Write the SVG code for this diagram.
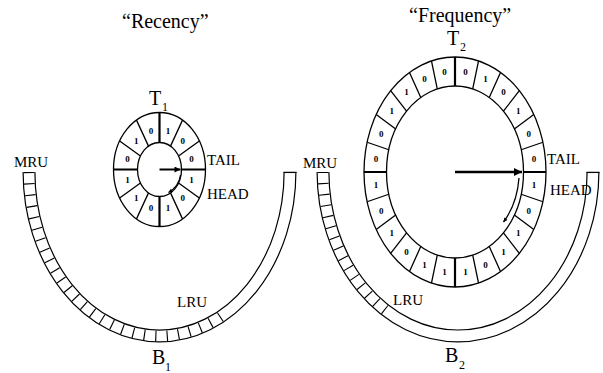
<svg xmlns="http://www.w3.org/2000/svg" width="603" height="373" viewBox="0 0 603 373">
  <style>
    .ln { stroke: #000; stroke-width: 1.3; fill: none; }
    .bold { stroke: #000; stroke-width: 2.2; fill: none; }
    .ptr { stroke: #000; fill: none; }
    .bit { font-family: "Liberation Serif", "Times New Roman", serif; font-weight: bold; font-size: 9px; text-anchor: middle; fill: #000; }
    .lbl { font-family: "Liberation Serif", "Times New Roman", serif; font-size: 15px; fill: #000; }
    .title { font-family: "Liberation Serif", "Times New Roman", serif; font-size: 20px; fill: #000; }
    .big { font-family: "Liberation Serif", "Times New Roman", serif; font-size: 20px; fill: #000; }
    .sub { font-family: "Liberation Serif", "Times New Roman", serif; font-size: 12px; fill: #000; }
    .band-edge { stroke: #000; stroke-width: 13; fill: none; }
    .band-fill { stroke: #fff; stroke-width: 10.6; fill: none; }
    .band-cells { stroke: #000; stroke-width: 10.6; fill: none; stroke-dasharray: 1 9; }
  </style>
  <defs>
    <marker id="head-lg" viewBox="0 0 10 10" refX="10" refY="5" markerWidth="11" markerHeight="8" markerUnits="userSpaceOnUse" orient="auto">
      <path d="M0 0 L10 5 L0 10 Z" fill="#000"/>
    </marker>
    <marker id="head-sm" viewBox="0 0 10 10" refX="10" refY="5" markerWidth="8" markerHeight="6" markerUnits="userSpaceOnUse" orient="auto">
      <path d="M0 0 L10 5 L0 10 Z" fill="#000"/>
    </marker>
    <marker id="head-xs" viewBox="0 0 10 10" refX="10" refY="5" markerWidth="7" markerHeight="4" markerUnits="userSpaceOnUse" orient="auto">
      <path d="M0 0 L10 5 L0 10 Z" fill="#000"/>
    </marker>
  </defs>

  <rect width="603" height="373" fill="#fff"/>

  <!-- column titles -->
  <text id="title-recency" class="title" x="122" y="28">“Recency”</text>
  <text id="title-frequency" class="title" x="409" y="22">“Frequency”</text>

  <!-- B1: ghost list of the recency side -->
  <g id="b1">
    <path class="band-edge" d="M29 172 A130.5 164 0 0 0 290 172"/>
    <path class="band-fill" d="M29 172 A130.5 164 0 0 0 290 172"/>
    <path class="band-cells" pathLength="261" d="M29 172 A130.5 164 0 0 0 220.8 316.8"/>
    <path class="ln" d="M283.5 172.4 H296.5"/>
    <text class="lbl" x="14" y="167">MRU</text>
    <text class="lbl" x="283" y="167" visibility="hidden">MRU</text>
    <text class="lbl" x="177" y="307">LRU</text>
    <text class="big" x="152" y="364">B</text>
    <text class="sub" x="165" y="371">1</text>
  </g>

  <!-- B2: ghost list of the frequency side -->
  <g id="b2">
    <path class="band-edge" d="M323 172 A135 164 0 0 0 593 172"/>
    <path class="band-fill" d="M323 172 A135 164 0 0 0 593 172"/>
    <path class="band-cells" pathLength="141" d="M323 172 A135 164 0 0 0 385.1 310"/>
    <path class="ln" d="M586.5 172.4 H599.5"/>
    <text class="lbl" x="303" y="168">MRU</text>
    <text class="lbl" x="393" y="305">LRU</text>
    <text class="big" x="445" y="362">B</text>
    <text class="sub" x="459" y="369">2</text>
  </g>

  <!-- T1: clock of 12 pages with reference bits -->
  <g id="t1">
    <ellipse class="ln" cx="159.5" cy="169.5" rx="46" ry="57" fill="#fff"/>
    <ellipse class="ln" cx="159.5" cy="169.5" rx="22" ry="27"/>
    <path class="bold" d="M181.5 169.5 H205.5 M137.5 169.5 H113.5 M159.5 142.5 V112.5 M159.5 196.5 V226.5"/>
    <path class="ln" d="M178.55 156 L199.34 141 M170.5 146.12 L182.5 120.14 M148.5 146.12 L136.5 120.14 M140.45 156 L119.66 141 M140.45 183 L119.66 198 M148.5 192.88 L136.5 218.86 M170.5 192.88 L182.5 218.86 M178.55 183 L199.34 198"/>
    <text class="bit" x="168" y="134">1</text>
    <text class="bit" x="182.8" y="144.2">0</text>
    <text class="bit" x="191.4" y="162.2">0</text>
    <text class="bit" x="191.4" y="182.9">1</text>
    <text class="bit" x="182.8" y="200.8">0</text>
    <text class="bit" x="168" y="211.1">1</text>
    <text class="bit" x="151" y="211.1">0</text>
    <text class="bit" x="136.2" y="200.8">1</text>
    <text class="bit" x="127.6" y="182.9">1</text>
    <text class="bit" x="127.6" y="162.2">0</text>
    <text class="bit" x="136.2" y="144.2">1</text>
    <text class="bit" x="151" y="134">0</text>
    <text class="big" x="149" y="105">T</text>
    <text class="sub" x="162" y="111">1</text>
    <text class="lbl" x="207" y="165">TAIL</text>
    <text class="lbl" x="207" y="199">HEAD</text>
  </g>

  <!-- T2: clock of 24 pages with reference bits -->
  <g id="t2">
    <ellipse class="ln" cx="455" cy="172" rx="91" ry="115" fill="#fff"/>
    <ellipse class="ln" cx="455" cy="172" rx="68.5" ry="86"/>
    <path class="bold" d="M523.5 172 H546 M386.5 172 H364 M455 86 V57 M455 258 V287"/>
    <path class="ln" d="M521.17 149.74 L542.9 142.24 M514.32 129 L533.81 114.5 M503.44 111.19 L519.35 90.68 M489.25 97.52 L500.5 72.41 M472.73 88.93 L478.55 60.92 M437.27 88.93 L431.45 60.92 M420.75 97.52 L409.5 72.41 M406.56 111.19 L390.65 90.68 M395.68 129 L376.19 114.5 M388.83 149.74 L367.1 142.24 M388.83 194.26 L367.1 201.76 M395.68 215 L376.19 229.5 M406.56 232.81 L390.65 253.32 M420.75 246.48 L409.5 271.59 M437.27 255.07 L431.45 283.08 M472.73 255.07 L478.55 283.08 M489.25 246.48 L500.5 271.59 M503.44 232.81 L519.35 253.32 M514.32 215 L533.81 229.5 M521.17 194.26 L542.9 201.76"/>
    <text class="bit" x="465.4" y="75.4">0</text>
    <text class="bit" x="485.5" y="82.2">1</text>
    <text class="bit" x="503.6" y="95.3">0</text>
    <text class="bit" x="518.3" y="113.8">1</text>
    <text class="bit" x="528.7" y="136.5">0</text>
    <text class="bit" x="534.1" y="161.9">0</text>
    <text class="bit" x="534.1" y="188.1">1</text>
    <text class="bit" x="528.7" y="213.5">0</text>
    <text class="bit" x="518.3" y="236.2">1</text>
    <text class="bit" x="503.6" y="254.7">1</text>
    <text class="bit" x="485.5" y="267.9">0</text>
    <text class="bit" x="465.4" y="274.6">1</text>
    <text class="bit" x="444.6" y="274.6">1</text>
    <text class="bit" x="424.5" y="267.9">1</text>
    <text class="bit" x="406.5" y="254.7">0</text>
    <text class="bit" x="391.7" y="236.2">1</text>
    <text class="bit" x="381.3" y="213.5">0</text>
    <text class="bit" x="375.9" y="188.1">1</text>
    <text class="bit" x="375.9" y="161.9">0</text>
    <text class="bit" x="381.3" y="136.5">0</text>
    <text class="bit" x="391.7" y="113.8">1</text>
    <text class="bit" x="406.5" y="95.3">1</text>
    <text class="bit" x="424.5" y="82.2">0</text>
    <text class="bit" x="444.6" y="75.4">0</text>
    <text class="big" x="447" y="45">T</text>
    <text class="sub" x="460" y="51">2</text>
    <text class="lbl" x="547" y="164">TAIL</text>
    <text class="lbl" x="550" y="195">HEAD</text>
  </g>

  <!-- clock hands and sweep direction -->
  <g id="connectors">
    <path class="ptr" stroke-width="2" d="M159.5 169.5 H180.5" marker-end="url(#head-sm)"/>
    <path class="ptr" stroke-width="1.2" d="M180.5 175 Q179 186 168.5 192.5" marker-end="url(#head-xs)"/>
    <path class="ptr" stroke-width="2.6" d="M455 172 H522" marker-end="url(#head-lg)"/>
    <path class="ptr" stroke-width="1.3" d="M519 178 Q517 204 503.5 222" marker-end="url(#head-xs)"/>
  </g>
</svg>
